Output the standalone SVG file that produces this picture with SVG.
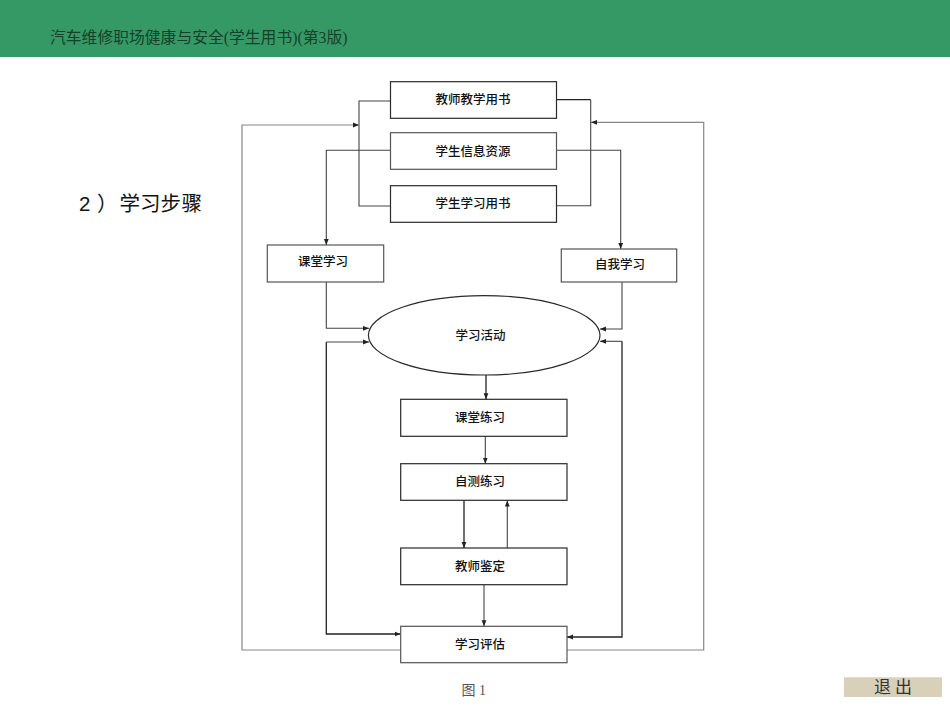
<svg xmlns="http://www.w3.org/2000/svg" width="950" height="713" viewBox="0 0 950 713">
<style>
.n{font-family:"Liberation Serif","Noto Sans CJK SC",serif;font-size:12.5px;font-weight:500;fill:#111;text-anchor:middle}
.b{fill:#fff;stroke:#2a2a2a;stroke-width:1.2}
.g{fill:#fff;stroke:#555;stroke-width:1.2}
.c{fill:none;stroke:#444;stroke-width:1.1}
.k{fill:none;stroke:#222;stroke-width:1.3}
.o{fill:none;stroke:#888;stroke-width:1.2}
.a{marker-end:url(#ah)}
</style>
<defs>
<marker id="ah" markerUnits="userSpaceOnUse" markerWidth="7" markerHeight="6" refX="6" refY="3" orient="auto"><path d="M0 .6L6 3L0 5.4Z" fill="#222"/></marker>
</defs>
<rect id="page" width="950" height="713" fill="#fff"/>
<g id="header">
<rect width="950" height="57" fill="#359966"/>
<text x="50" y="43" font-family="'Liberation Serif','Noto Sans CJK SC',serif" font-size="15.8" fill="#163f2b">汽车维修职场健康与安全(学生用书)(第3版)</text>
</g>
<text id="step" y="211" font-family="'Liberation Sans','Noto Sans CJK SC',sans-serif" font-size="20.5" fill="#111" x="79 97 119.5 140 160.5 181.5">2）学习步骤</text>
<g id="connectors">
<path class="c" d="M390.5 101H359V206H390.5"/>
<path class="k" d="M556.5 99.7H590.7"/>
<path class="c" d="M590.7 99.7V205.7H556.5"/>
<path class="o a" d="M400.5 650H242V125H359"/>
<path class="o a" d="M567 650H703.7V122.3H591"/>
<path class="c a" d="M390.5 150.3H326.3V245"/>
<path class="c a" d="M556.5 150.3H620.7V249"/>
<path class="c a" d="M326.3 282V328.3H369"/>
<path class="c a" d="M622 282V329H600"/>
<path class="k a" d="M326.3 342V634H400.5"/>
<path class="c a" d="M326.3 342H369"/>
<path class="k a" d="M622 341.3V637H567"/>
<path class="c a" d="M622 341.3H600"/>
<path class="k a" d="M486 375V399.3"/>
<path class="c a" d="M485.3 436.3V463.7"/>
<path class="k a" d="M464 500.3V548"/>
<path class="c a" d="M507.3 548V500.5"/>
<path class="c a" d="M484 584.7V626.3"/>
</g>
<g id="n1"><rect class="b" x="390.5" y="81.7" width="166" height="36.6"/><text class="n" x="473" y="103.5">教师教学用书</text></g>
<g id="n2"><rect class="g" x="390.5" y="132.7" width="166" height="36.6"/><text class="n" x="473" y="155.5">学生信息资源</text></g>
<g id="n3"><rect class="b" x="390.5" y="185.7" width="166" height="36.6"/><text class="n" x="473" y="207.5">学生学习用书</text></g>
<g id="n4"><rect class="g" x="267.3" y="245" width="116.4" height="37"/><text class="n" x="323" y="265.5">课堂学习</text></g>
<g id="n5"><rect class="g" x="561.3" y="249" width="115.4" height="33"/><text class="n" x="620" y="268.5">自我学习</text></g>
<g id="n6"><ellipse class="b" cx="484.2" cy="335.3" rx="115.8" ry="39.7"/><text class="n" x="480.5" y="339.5">学习活动</text></g>
<g id="n7"><rect class="b" x="400.7" y="399.3" width="166.3" height="37"/><text class="n" x="480" y="421.8">课堂练习</text></g>
<g id="n8"><rect class="b" x="400.7" y="463.7" width="166.3" height="36.6"/><text class="n" x="480" y="485.5">自测练习</text></g>
<g id="n9"><rect class="b" x="400.7" y="548" width="166.3" height="36.7"/><text class="n" x="480" y="571.2">教师鉴定</text></g>
<g id="n10"><rect class="g" x="400.7" y="626.3" width="166.3" height="36.4"/><text class="n" x="480" y="648.5">学习评估</text></g>
<text id="caption" y="695" font-family="'Liberation Serif','Noto Sans CJK SC',serif" font-size="14" fill="#555" x="461.5 479">图1</text>
<g id="exit"><rect x="844" y="677.3" width="98" height="19.7" fill="#d8d0b9"/><text y="693" font-family="'Noto Sans CJK SC',sans-serif" font-size="17" fill="#333" x="874 895">退出</text></g>
</svg>
